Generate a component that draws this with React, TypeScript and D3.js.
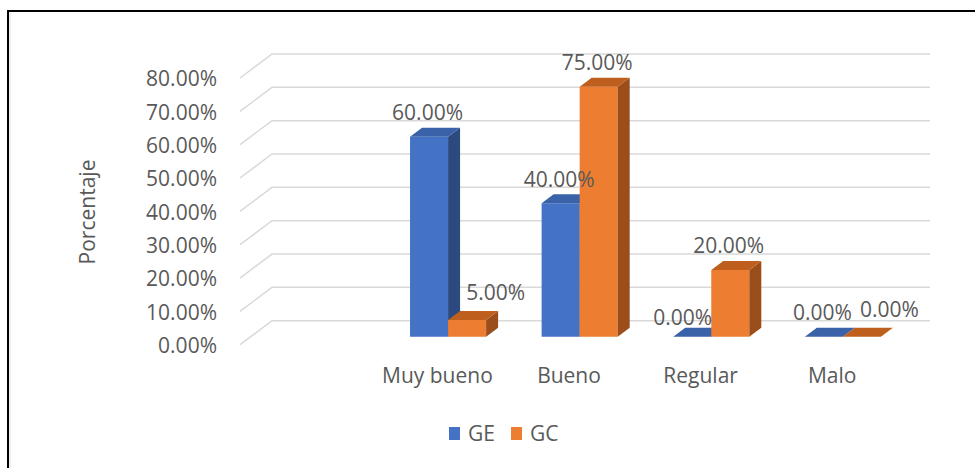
import * as d3 from "d3";

// chart data
const categories = ["Muy bueno", "Bueno", "Regular", "Malo"];
const series = ["GE", "GC"];
const geValues = [0.6, 0.4, 0, 0];
const gcValues = [0.05, 0.75, 0.2, 0];
const yTicks = [0, 0.1, 0.2, 0.3, 0.4, 0.5, 0.6, 0.7, 0.8];

const W = 975;
const H = 468;
const FONT = "'Open Sans', 'DejaVu Sans', sans-serif";
const TEXT = "#595959";
const GRID = "#d9d9d9";

// oblique depth of the floor (front edge -> back wall)
const DX = 32;
const DY = 24;
const BAR_FRONT = 1 / 3;
const BAR_BACK = 17 / 24;

const colors = {
  GE: { front: "#4472C4", top: "#3A62A8", side: "#2C4A80" },
  GC: { front: "#ED7D31", top: "#BE5F1E", side: "#9C4E1A" },
};

// little hand nudges Excel applied to a few labels
const labelNudge: Record<string, [number, number]> = {
  "GC-Muy bueno": [30, -3],
  "GE-Regular": [-8, 5],
  "GC-Malo": [29, -3],
};

export default function App() {
  // leading empty slot: the sheet had a blank first category
  const x = d3.scaleBand<string>().domain(["", ...categories]).range([240, 898]);
  const xs = d3.scaleBand<string>().domain(series).range([0, x.bandwidth()]).paddingOuter(0.73);
  const y = d3.scaleLinear().domain([0, 0.8]).range([344.7, 78]);
  const pct = d3.format(".2%");

  const proj = (px: number, v: number, f: number): [number, number] => [px + DX * f, y(v) - DY * f];
  const pts = (arr: [number, number][]) => arr.map((p) => p.join(",")).join(" ");

  const values: Record<string, number[]> = { GE: geValues, GC: gcValues };

  const bars: JSX.Element[] = [];
  const labels: JSX.Element[] = [];
  categories.forEach((c, ci) => {
    series.forEach((s) => {
      const v = values[s][ci];
      const x0 = (x(c) as number) + (xs(s) as number);
      const x1 = x0 + xs.bandwidth();
      const col = colors[s as "GE" | "GC"];
      const front = [proj(x0, 0, BAR_FRONT), proj(x1, 0, BAR_FRONT), proj(x1, v, BAR_FRONT), proj(x0, v, BAR_FRONT)];
      const top = [proj(x0, v, BAR_FRONT), proj(x1, v, BAR_FRONT), proj(x1, v, BAR_BACK), proj(x0, v, BAR_BACK)];
      const side = [proj(x1, 0, BAR_FRONT), proj(x1, 0, BAR_BACK), proj(x1, v, BAR_BACK), proj(x1, v, BAR_FRONT)];
      bars.push(
        <g key={s + c}>
          <polygon points={pts(front)} fill={col.front} />
          <polygon points={pts(side)} fill={col.side} />
          <polygon points={pts(top)} fill={col.top} />
        </g>
      );
      const nudge = labelNudge[s + "-" + c] || [0, 0];
      const lx = (x0 + x1) / 2 + DX * BAR_FRONT - 1.5 + nudge[0];
      const ly = proj(x0, v, BAR_BACK)[1] - 15 + nudge[1];
      labels.push(
        <text key={"l" + s + c} x={lx} y={ly} dy="0.35em" textAnchor="middle">
          {pct(v)}
        </text>
      );
    });
  });

  return (
    <svg width={W} height={H} style={{ position: "absolute", left: 0, top: 0, background: "#fff" }}>
      <rect x={8} y={11} width={W + 10} height={H + 10} fill="#fff" stroke="#000" strokeWidth={2} />
      <line x1={10} x2={10} y1={12} y2={H} stroke="#e0e0e0" strokeWidth={1} />

      {/* gridlines: side wall diagonals and back wall */}
      <g stroke={GRID} strokeWidth={1.5} fill="none">
        {yTicks.map((t) => {
          const [ax, ay] = proj(x.range()[0], t, 0);
          const [bx, by] = proj(x.range()[0], t, 1);
          const [cx] = proj(x.range()[1], t, 1);
          return <polyline key={t} points={`${ax},${ay} ${bx},${by} ${cx},${by}`} />;
        })}
      </g>

      <g fontFamily={FONT} fontSize={21} fill={TEXT}>
        {yTicks.map((t) => (
          <text key={t} x={x.range()[0] - 23} y={y(t) + 1} dy="0.35em" textAnchor="end">
            {pct(t)}
          </text>
        ))}
        <text transform="translate(88,212) rotate(-90)" textAnchor="middle" dy="0.35em">
          Porcentaje
        </text>
      </g>

      {bars}

      <g fontFamily={FONT} fontSize={21} fill={TEXT}>
        {labels}
        {categories.map((c) => (
          <text key={c} x={(x(c) as number) + x.bandwidth() / 2} y={376} dy="0.35em" textAnchor="middle">
            {c}
          </text>
        ))}
      </g>

      <g fontFamily={FONT} fontSize={21} fill={TEXT}>
        {series.map((s, i) => {
          const lx = 449 + i * 62;
          return (
            <g key={s}>
              <rect x={lx} y={427} width={11} height={13} fill={colors[s as "GE" | "GC"].front} />
              <text x={lx + 19} y={433.5} dy="0.35em">
                {s}
              </text>
            </g>
          );
        })}
      </g>
    </svg>
  );
}
